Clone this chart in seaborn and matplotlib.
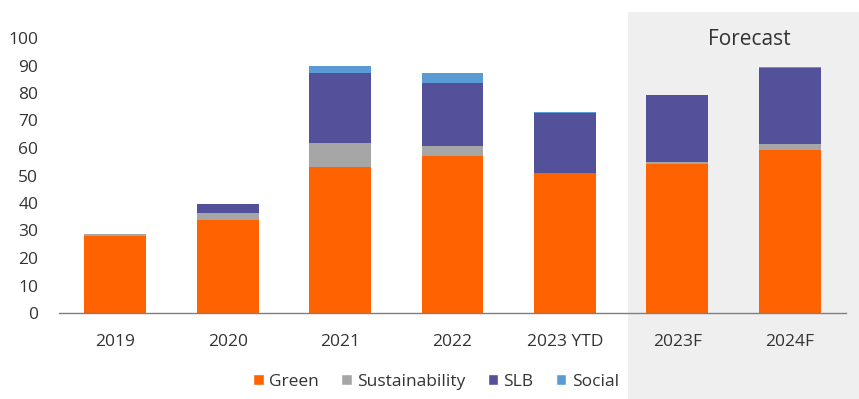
import numpy as np
import pandas as pd
import seaborn as sns
import matplotlib.pyplot as plt
from matplotlib.patches import Patch, Rectangle

# Data
years = ['2019', '2020', '2021', '2022', '2023 YTD', '2023F', '2024F']
green = [28.0, 34.0, 53.0, 57.2, 50.8, 54.2, 59.3]
sustainability = [0.8, 2.5, 8.7, 3.5, 0.0, 0.6, 2.2]
slb = [0.0, 3.1, 25.5, 23.0, 22.0, 24.3, 27.5]
social = [0.0, 0.0, 2.6, 3.5, 0.3, 0.3, 0.4]

colors = {
    'Green': '#FF6200',
    'Sustainability': '#A6A6A6',
    'SLB': '#525199',
    'Social': '#5B9BD5',
}

sns.set_style("white")
plt.rcParams['font.family'] = ['Open Sans', 'DejaVu Sans']
text_color = '#333333'

df = pd.DataFrame({'year': years, 'Green': green, 'Sustainability': sustainability,
                   'SLB': slb, 'Social': social})
# cumulative heights so that each layer can be drawn over the previous one
layers = ['Green', 'Sustainability', 'SLB', 'Social']
cum = df[layers].cumsum(axis=1)

fig = plt.figure(figsize=(8.59, 3.99), dpi=100)

# Forecast shaded region behind everything
fig.patches.append(Rectangle((628 / 859, 0), 1 - 628 / 859, 1 - 12 / 399,
                             transform=fig.transFigure, facecolor='#EFEFEF',
                             edgecolor='none', zorder=-5))

ax = fig.add_axes([59 / 859, 1 - 313 / 399, (846 - 59) / 859, (313 - 38) / 399])
ax.patch.set_alpha(0)

for layer in reversed(layers):
    sns.barplot(x=df['year'], y=cum[layer], color=colors[layer], width=0.55,
                saturation=1, linewidth=0, ax=ax, zorder=2)

ax.set_ylim(0, 100)
ax.set_xlim(-0.5, len(years) - 0.5)
ax.set_yticks(range(0, 101, 10))
ax.set_xlabel('')
ax.set_ylabel('')

for side in ['top', 'right', 'left']:
    ax.spines[side].set_visible(False)
ax.spines['bottom'].set_color('#7F7F7F')
ax.spines['bottom'].set_linewidth(1.0)

ax.tick_params(axis='y', length=0, labelsize=12.5, labelcolor=text_color, pad=15)
ax.tick_params(axis='x', which='major', length=0, labelsize=12.5, labelcolor=text_color, pad=15)
ax.set_xticks(np.arange(-0.5, len(years), 1), minor=True)
ax.tick_params(axis='x', which='minor', length=5, color='#7F7F7F', width=1)

ax.text(5.64, 99.5, 'Forecast', ha='center', va='center', fontsize=15,
        color=text_color, clip_on=False)

handles = [Patch(facecolor=colors[k], label=k) for k in layers]
fig.legend(handles=handles, loc='center', bbox_to_anchor=(436 / 859, 1 - 382 / 399),
           ncol=4, frameon=False, fontsize=12.5, handlelength=0.6, handleheight=0.6,
           handletextpad=0.3, columnspacing=1.3, labelcolor=text_color)

fig.savefig('out.png', dpi=100)
